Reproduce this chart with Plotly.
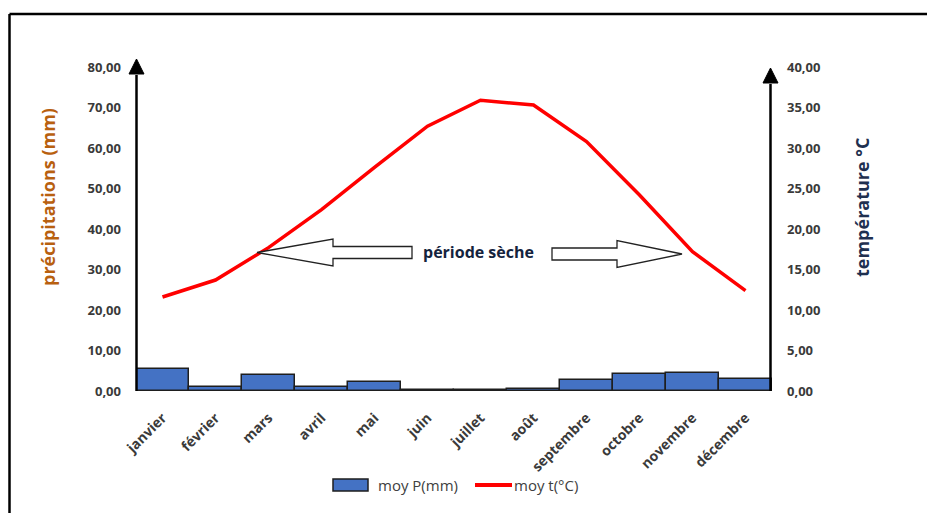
import plotly.graph_objects as go

months = ["janvier", "février", "mars", "avril", "mai", "juin", "juillet",
          "août", "septembre", "octobre", "novembre", "décembre"]
precip_mm = [5.4, 1.1, 4.0, 1.1, 2.3, 0.2, 0.15, 0.5, 2.7, 4.2, 4.4, 3.0]
temp_c = [11.6, 13.7, 17.7, 22.4, 27.6, 32.7, 35.9, 35.3, 30.8, 24.2, 17.2, 12.4]
left_ticks = [0, 10, 20, 30, 40, 50, 60, 70, 80]
right_ticks = [0, 5, 10, 15, 20, 25, 30, 35, 40]

W, H = 927, 513
L, R, T, B = 136, 155, 67, 122
PW, PH = W - L - R, H - T - B

def px(x):
    return (x - L) / PW

def py(y):
    return (H - B - y) / PH

FONT = "Open Sans"
TICKC = "#3a3a3a"

fig = go.Figure()
fig.add_trace(go.Bar(
    x=months, y=precip_mm, name="moy P(mm)",
    marker=dict(color="#4472C4", line=dict(color="#1e1e1e", width=1.5)),
    yaxis="y", showlegend=False,
))
fig.add_trace(go.Scatter(
    x=months, y=temp_c, name="moy t(°C)", mode="lines",
    line=dict(color="#FF0000", width=3.5),
    yaxis="y2", showlegend=False,
))

shapes = []
# frame
shapes.append(dict(type="line", xref="paper", yref="paper",
                   x0=px(9.5), y0=py(14), x1=px(927), y1=py(14),
                   line=dict(color="black", width=2.5)))
shapes.append(dict(type="line", xref="paper", yref="paper",
                   x0=px(9.5), y0=py(14), x1=px(9.5), y1=py(513),
                   line=dict(color="black", width=2.5)))
# axis lines with arrows
for (xa, top, apex) in [(136.5, 73, 59), (770.5, 82, 68)]:
    shapes.append(dict(type="line", xref="paper", yref="paper",
                       x0=px(xa), y0=py(391), x1=px(xa), y1=py(top + 2),
                       line=dict(color="black", width=2.5)))
    path = "M {} {} L {} {} L {} {} Z".format(
        px(xa), py(apex), px(xa - 7.5), py(top + 1), px(xa + 7.5), py(top + 1))
    shapes.append(dict(type="path", xref="paper", yref="paper", path=path,
                       fillcolor="black", line=dict(color="black", width=1)))

# "période sèche" block arrows
def block_arrow(tip_x, tip_y, head_x, shaft_end_x, head_half, shaft_half):
    pts = [(tip_x, tip_y), (head_x, tip_y - head_half), (head_x, tip_y - shaft_half),
           (shaft_end_x, tip_y - shaft_half), (shaft_end_x, tip_y + shaft_half),
           (head_x, tip_y + shaft_half), (head_x, tip_y + head_half)]
    p = "M " + " L ".join("{} {}".format(px(a), py(b)) for a, b in pts) + " Z"
    return dict(type="path", xref="paper", yref="paper", path=p,
                fillcolor="white", line=dict(color="#222222", width=1.3))

shapes.append(block_arrow(257, 252.5, 333, 412, 13.5, 6))
shapes.append(block_arrow(682, 254, 617, 552, 13.5, 6))

# custom legend
shapes.append(dict(type="rect", xref="paper", yref="paper",
                   x0=px(333), y0=py(479), x1=px(368), y1=py(491),
                   fillcolor="#4472C4", line=dict(color="#1e1e1e", width=1.5)))
shapes.append(dict(type="line", xref="paper", yref="paper",
                   x0=px(475), y0=py(485), x1=px(512), y1=py(485),
                   line=dict(color="#FF0000", width=4)))

annotations = [
    dict(text="<b>période sèche</b>", xref="paper", yref="paper",
         x=px(478), y=py(252), xanchor="center", yanchor="middle", showarrow=False,
         font=dict(family=FONT, size=16, color="#14233d")),
    dict(text="<b>précipitations (mm)</b>", xref="paper", yref="paper",
         x=px(48), y=py(197), xanchor="center", yanchor="middle",
         showarrow=False, textangle=-90,
         font=dict(family=FONT, size=18, color="#B8600F")),
    dict(text="<b>température °C</b>", xref="paper", yref="paper",
         x=px(862), y=py(207), xanchor="center", yanchor="middle",
         showarrow=False, textangle=-90,
         font=dict(family=FONT, size=18, color="#1F3050")),
    dict(text="moy P(mm)", xref="paper", yref="paper",
         x=px(376), y=py(485), xanchor="left", yanchor="middle", showarrow=False,
         font=dict(family=FONT, size=15, color="#404040")),
    dict(text="moy t(°C)", xref="paper", yref="paper",
         x=px(512), y=py(485), xanchor="left", yanchor="middle", showarrow=False,
         font=dict(family=FONT, size=15, color="#404040")),
]

fig.update_layout(
    width=W, height=H,
    margin=dict(l=L, r=R, t=T, b=B, autoexpand=False),
    paper_bgcolor="white", plot_bgcolor="white",
    separators=", ",
    bargap=0,
    showlegend=False,
    shapes=shapes,
    annotations=annotations,
    xaxis=dict(
        type="category", tickangle=-45, showgrid=False, showline=False,
        zeroline=False, ticks="", ticklabelstandoff=15,
        tickfont=dict(family=FONT, size=14, color=TICKC, weight="bold"),
    ),
    yaxis=dict(
        range=[0, 80], tickvals=left_ticks, tickformat=".2f",
        showgrid=False, zeroline=False, showline=False, ticks="",
        ticklabelstandoff=14,
        tickfont=dict(family=FONT, size=13, color=TICKC, weight="bold"),
    ),
    yaxis2=dict(
        range=[0, 40], tickvals=right_ticks, tickformat=".2f",
        overlaying="y", side="right",
        showgrid=False, zeroline=False, showline=False, ticks="",
        ticklabelstandoff=14,
        tickfont=dict(family=FONT, size=13, color=TICKC, weight="bold"),
    ),
)

fig.write_html("out.html")
